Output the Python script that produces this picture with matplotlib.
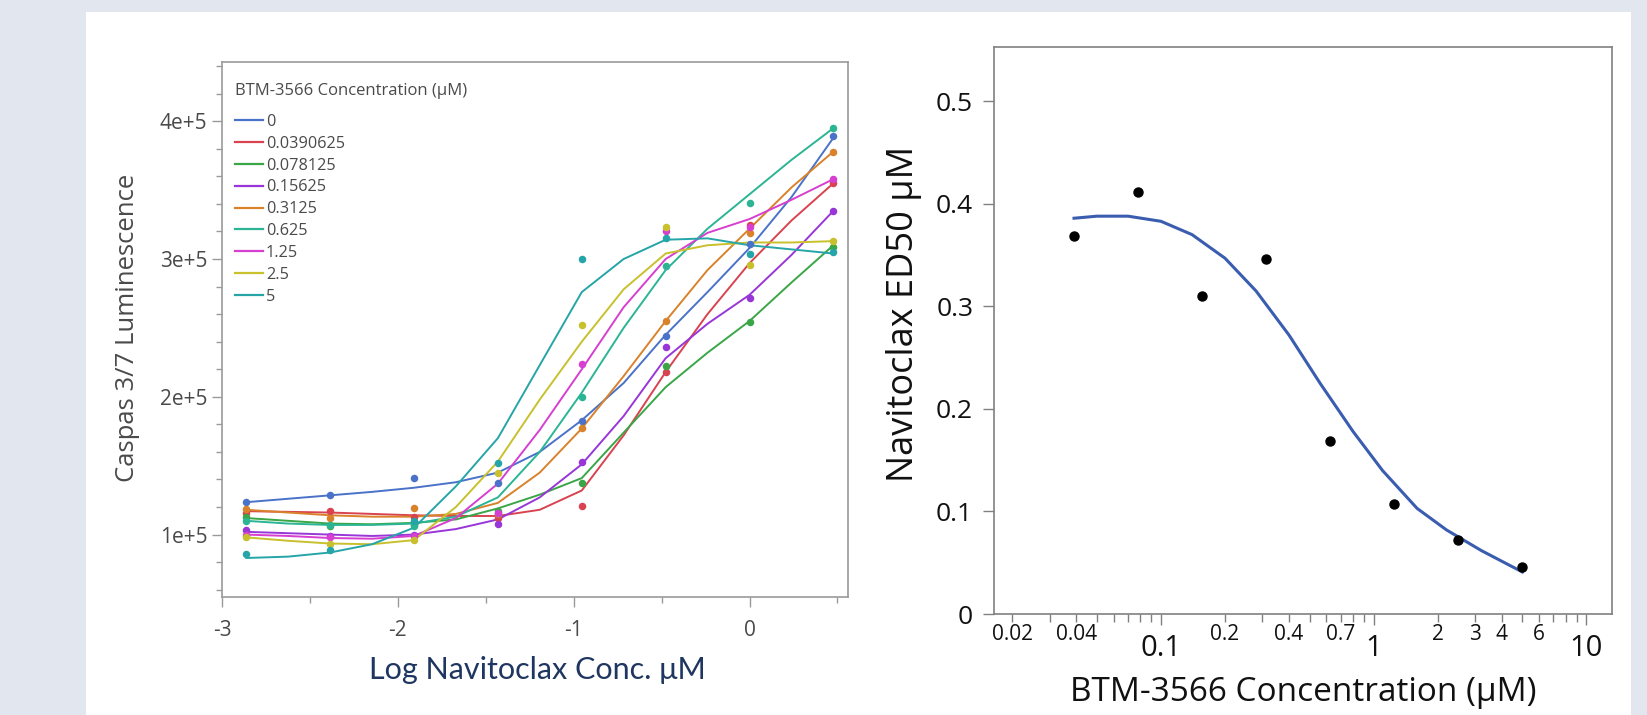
import matplotlib
matplotlib.use('Agg')
import matplotlib.pyplot as plt
from matplotlib.patches import Rectangle
from matplotlib.lines import Line2D
from matplotlib.ticker import FixedLocator, FuncFormatter

# Left panel: caspase 3/7 luminescence vs log navitoclax, one series per BTM-3566 conc
btm_levels = ['0', '0.0390625', '0.078125', '0.15625', '0.3125', '0.625', '1.25', '2.5', '5']
series_colors = ['#4a72c9', '#d9434f', '#3aa647', '#9836d8', '#d9822b',
                 '#2bb594', '#d63fd0', '#c8c02c', '#26a5a8']

log_navi = [-2.863, -2.385, -1.908, -1.431, -0.954, -0.477, 0.0, 0.477]

# measured points (x1e5)
pts_0 = [1.237, 1.286, 1.41, 1.376, 1.825, 2.44, 3.11, 3.89]
pts_0039 = [1.16, 1.168, 1.13, 1.12, 1.21, 2.18, 3.25, 3.55]
pts_0078 = [1.125, 1.06, 1.07, 1.17, 1.376, 2.22, 2.545, 3.09]
pts_0156 = [1.03, 0.99, 1.0, 1.077, 1.53, 2.36, 2.72, 3.35]
pts_0312 = [1.185, 1.12, 1.19, 1.15, 1.77, 2.55, 3.19, 3.78]
pts_0625 = [1.10, 1.07, 1.06, 1.16, 2.0, 2.95, 3.41, 3.95]
pts_125 = [1.0, 0.98, 0.99, 1.16, 2.235, 3.2, 3.235, 3.58]
pts_25 = [0.98, 0.93, 0.96, 1.45, 2.52, 3.23, 2.96, 3.13]
pts_5 = [0.856, 0.89, 1.1, 1.52, 3.0, 3.15, 3.04, 3.05]

# fitted curves (x1e5)
fit_x = [-2.863, -2.624, -2.385, -2.147, -1.908, -1.670, -1.431, -1.193,
         -0.954, -0.716, -0.477, -0.239, 0.0, 0.239, 0.477]
fit_0 = [1.235, 1.26, 1.285, 1.31, 1.34, 1.38, 1.45, 1.60, 1.83, 2.10, 2.45, 2.76, 3.08, 3.45, 3.88]
fit_0039 = [1.17, 1.165, 1.16, 1.15, 1.14, 1.135, 1.135, 1.18, 1.32, 1.72, 2.18, 2.60, 2.97, 3.28, 3.55]
fit_0078 = [1.12, 1.10, 1.08, 1.075, 1.085, 1.11, 1.19, 1.29, 1.41, 1.74, 2.07, 2.32, 2.55, 2.83, 3.10]
fit_0156 = [1.02, 1.01, 1.0, 0.99, 1.0, 1.04, 1.11, 1.27, 1.51, 1.86, 2.28, 2.53, 2.74, 3.03, 3.35]
fit_0312 = [1.18, 1.16, 1.14, 1.13, 1.13, 1.15, 1.23, 1.45, 1.77, 2.15, 2.55, 2.92, 3.22, 3.52, 3.78]
fit_0625 = [1.10, 1.08, 1.07, 1.07, 1.08, 1.13, 1.27, 1.60, 2.03, 2.50, 2.92, 3.22, 3.47, 3.72, 3.95]
fit_125 = [1.00, 0.99, 0.975, 0.97, 0.99, 1.12, 1.37, 1.76, 2.20, 2.65, 3.00, 3.19, 3.29, 3.43, 3.58]
fit_25 = [0.98, 0.955, 0.935, 0.93, 0.96, 1.20, 1.53, 1.98, 2.40, 2.78, 3.04, 3.10, 3.12, 3.12, 3.13]
fit_5 = [0.83, 0.84, 0.87, 0.93, 1.05, 1.35, 1.70, 2.23, 2.76, 3.00, 3.14, 3.15, 3.10, 3.07, 3.04]

all_pts = [pts_0, pts_0039, pts_0078, pts_0156, pts_0312, pts_0625, pts_125, pts_25, pts_5]
all_fits = [fit_0, fit_0039, fit_0078, fit_0156, fit_0312, fit_0625, fit_125, fit_25, fit_5]

# Right panel: navitoclax ED50 vs BTM-3566 concentration
btm_conc = [0.0390625, 0.078125, 0.15625, 0.3125, 0.625, 1.25, 2.5, 5.0]
ed50 = [0.369, 0.412, 0.310, 0.346, 0.169, 0.107, 0.072, 0.046]
ed50_fit_x = [0.039, 0.05, 0.07, 0.1, 0.14, 0.2, 0.28, 0.4, 0.56, 0.8, 1.1, 1.6, 2.2, 3.2, 5.0]
ed50_fit_y = [0.386, 0.388, 0.388, 0.383, 0.370, 0.347, 0.315, 0.272, 0.225, 0.178, 0.140, 0.103, 0.082, 0.062, 0.041]

W, H = 1647, 715
fig = plt.figure(figsize=(W / 100, H / 100), dpi=100)
fig.patch.set_facecolor('#e2e6ef')
fig.add_artist(Rectangle((86 / W, 0), (1631 - 86) / W, (H - 12) / H, transform=fig.transFigure,
                         facecolor='white', edgecolor='none', zorder=0))

seg = ['Open Sans', 'DejaVu Sans']
frame_col = '#9a9a9a'
gray_txt = '#4a4a4a'

# ---- left chart
ax = fig.add_axes([222 / W, (H - 597) / H, 626 / W, 535 / H])
for pts, fit, c in zip(all_pts, all_fits, series_colors):
    ax.plot(fit_x, [v * 1e5 for v in fit], color=c, lw=1.4, zorder=2,
            solid_joinstyle='round', solid_capstyle='round')
    ax.plot(log_navi, [v * 1e5 for v in pts], 'o', color=c, ms=4.4, zorder=3)
ax.set_xlim(-3, 0.56)
ax.set_ylim(0.547e5, 4.43e5)
ax.xaxis.set_major_locator(FixedLocator([-3, -2, -1, 0]))
ax.xaxis.set_minor_locator(FixedLocator([-2.5, -1.5, -0.5, 0.5]))
ax.yaxis.set_major_locator(FixedLocator([1e5, 2e5, 3e5, 4e5]))
ax.yaxis.set_minor_locator(FixedLocator([k * 0.2e5 for k in range(3, 23) if k % 5 != 0]))
ax.xaxis.set_major_formatter(FuncFormatter(lambda v, p: '%d' % v))
ax.yaxis.set_major_formatter(FuncFormatter(lambda v, p: '%de+5' % round(v / 1e5)))
for s in ax.spines.values():
    s.set_color(frame_col)
    s.set_linewidth(1.2)
ax.tick_params(which='major', length=7, width=1, color=frame_col, labelcolor=gray_txt, labelsize=15)
ax.tick_params(axis='x', which='major', pad=9.5)
ax.tick_params(which='minor', length=4, width=1, color=frame_col)
for lab in ax.get_xticklabels() + ax.get_yticklabels():
    lab.set_family(seg)

ax.text(0.0208, 0.946, 'BTM-3566 Concentration (µM)', transform=ax.transAxes, ha='left', va='center',
        fontsize=12, color=gray_txt, family=seg)
handles = [Line2D([], [], color=c, lw=1.6) for c in series_colors]
leg = ax.legend(handles, btm_levels, loc='upper left', bbox_to_anchor=(0.0208, 0.903),
                frameon=False, borderpad=0, borderaxespad=0,
                handlelength=1.75, handletextpad=0.15, labelspacing=0.36,
                prop={'family': seg, 'size': 11.7})
for t in leg.get_texts():
    t.set_color(gray_txt)

fig.text(128 / W, 1 - 328 / H, 'Caspas 3/7 Luminescence', rotation=90, ha='center', va='center',
         fontsize=18.5, color=gray_txt, family=seg)
fig.text(537 / W, 1 - 670 / H, 'Log Navitoclax Conc. μM', ha='center', va='center',
         fontsize=22, color='#1f3660', family=['Lato', 'DejaVu Sans'])

# ---- right chart
ax2 = fig.add_axes([994 / W, (H - 614) / H, 618 / W, 567 / H])
ax2.plot(ed50_fit_x, ed50_fit_y, color='#3a5db0', lw=2.2, zorder=2, solid_joinstyle='round')
ax2.plot(btm_conc, ed50, 'o', color='black', ms=6.5, zorder=3)
ax2.set_xscale('log')
ax2.set_xlim(0.0164, 13.2)
ax2.set_ylim(0, 0.553)
ax2.yaxis.set_major_locator(FixedLocator([0, 0.1, 0.2, 0.3, 0.4, 0.5]))
ax2.yaxis.set_major_formatter(FuncFormatter(lambda v, p: '0' if v == 0 else '%.1f' % v))
ax2.xaxis.set_major_locator(FixedLocator([0.1, 1, 10]))
ax2.xaxis.set_major_formatter(FuncFormatter(lambda v, p: '%g' % v))
minor_ticks = [k * d for d in (0.01, 0.1, 1) for k in range(2, 10)]
minor_labeled = [0.02, 0.04, 0.2, 0.4, 0.7, 2, 3, 4, 6]
ax2.xaxis.set_minor_locator(FixedLocator(minor_ticks))
ax2.xaxis.set_minor_formatter(FuncFormatter(
    lambda v, p: '%g' % v if any(abs(v - m) < 1e-9 for m in minor_labeled) else ''))
for s in ax2.spines.values():
    s.set_color('#808080')
    s.set_linewidth(1.2)
ax2.tick_params(axis='y', which='major', length=8, width=1, color='#808080', labelcolor='#111111',
                labelsize=19, pad=7)
ax2.tick_params(axis='x', which='major', length=8, width=1, color='#808080', labelcolor='#111111',
                labelsize=21, pad=6.5)
ax2.tick_params(axis='x', which='minor', length=5.5, width=1, color='#808080', labelcolor='#111111',
                labelsize=15, pad=2)
for lab in ax2.get_xticklabels() + ax2.get_yticklabels() + ax2.get_xticklabels(minor=True):
    lab.set_family(seg)
ax2.set_ylabel('Navitoclax ED50 µM', fontsize=26, color='#111111', family=seg)
ax2.yaxis.set_label_coords(-0.117, 0.53)
ax2.set_xlabel('BTM-3566 Concentration (µM)', fontsize=24, color='#111111', family=seg, labelpad=9)

fig.savefig('out.png', dpi=100, facecolor=fig.get_facecolor())
